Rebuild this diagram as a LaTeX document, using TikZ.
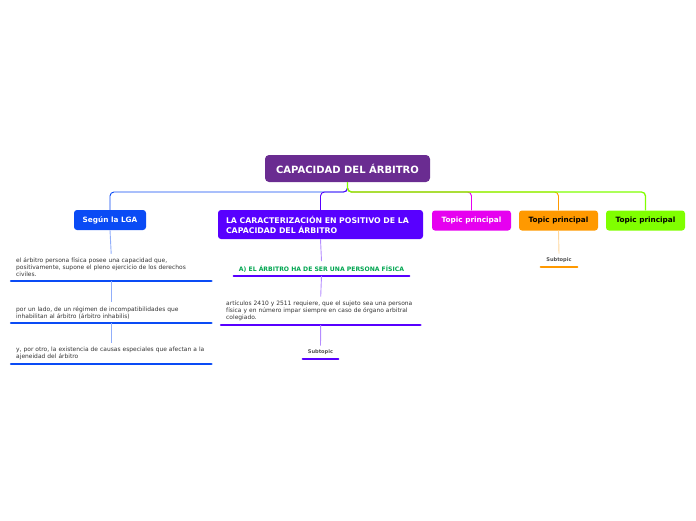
\documentclass[tikz,border=0pt]{standalone}
\usepackage{fontspec}
\setmainfont{DejaVu Sans}
\definecolor{rootpurple}{RGB}{106,44,145}
\definecolor{lgablue}{RGB}{10,75,245}
\definecolor{carpurple}{RGB}{88,0,255}
\definecolor{tpmagenta}{RGB}{230,0,240}
\definecolor{tporange}{RGB}{255,153,0}
\definecolor{tpgreen}{RGB}{128,255,0}
\definecolor{subgreen}{RGB}{0,165,80}
\definecolor{textgray}{RGB}{51,51,51}

\begin{document}
\begin{tikzpicture}[x=1pt, y=-1pt,
  rootbox/.style={fill=rootpurple, rounded corners=4pt, minimum width=165pt, minimum height=27pt,
    inner sep=0pt, text=white, font=\fontsize{10}{12}\selectfont\bfseries},
  topic/.style={rounded corners=3pt, minimum width=79pt, minimum height=20pt, inner sep=0pt,
    text=white, font=\fontsize{7.3}{9}\selectfont\bfseries},
  sub/.style={inner xsep=5pt, inner ysep=4pt, align=left, text=textgray,
    font=\fontsize{5.95}{7}\selectfont},
  subtag/.style={inner sep=4pt, text=textgray!85, font=\fontsize{5.1}{6}\selectfont\bfseries},
  branch/.style={line width=0.9pt, rounded corners=4pt},
  stem/.style={line width=0.9pt},
  uline/.style={line width=2.5pt, line cap=round, #1}]
  \useasboundingbox (0,0) rectangle (696,520);

  % root and main topics
  \node[rootbox] (cap) at (347.5,168.5) {CAPACIDAD DEL ÁRBITRO};
  \coordinate (bus) at (348,192);

  \node[topic, fill=lgablue, minimum width=72pt] (lga) at (110,220) {Según la LGA};
  \node[topic, fill=carpurple, minimum height=29pt, inner xsep=8pt, text width=189pt, align=left,
    font=\fontsize{7.8}{10}\selectfont\bfseries]
    (car) at (320.5,224.5) {LA CARACTERIZACIÓN EN POSITIVO DE LA\\CAPACIDAD DEL ÁRBITRO};
  \node[topic, fill=tpmagenta] (tpa) at (471.5,220.5) {Topic principal};
  \node[topic, fill=tporange, text=black] (tpb) at (558.5,220.5) {Topic principal};
  \node[topic, fill=tpgreen, text=black] (tpc) at (645.5,220.5) {Topic principal};

  \draw[branch, lgablue] (cap.south) -- (cap.south |- bus) -| (lga.north);
  \draw[branch, carpurple] (cap.south) -- (cap.south |- bus) -| (car.north);
  \draw[branch, tpmagenta] (cap.south) -- (cap.south |- bus) -| (tpa.north);
  \draw[branch, tporange] (cap.south) -- (cap.south |- bus) -| (tpb.north);
  \draw[branch, tpgreen, line width=1.3pt] (cap.south) -- (cap.south |- bus) -| (tpc.north);

  % Según la LGA
  \node[sub, anchor=south west, text width=190pt] (lga1) at (11,281)
    {el árbitro persona física posee una capacidad que,\\positivamente, supone el pleno ejercicio de los derechos\\civiles.};
  \node[sub, anchor=south west, text width=190pt] (lga2) at (11,323)
    {por un lado, de un régimen de incompatibilidades que\\inhabilitan al árbitro (árbitro inhabilis)};
  \node[sub, anchor=south west, text width=190pt] (lga3) at (11,364)
    {y, por otro, la existencia de causas especiales que afectan a la\\ajeneidad del árbitro};
  \foreach \n in {lga1,lga2,lga3}
    \draw[uline=lgablue] (\n.south west) -- (\n.south east);
  \draw[stem, lgablue!45] (lga.south) -- (lga1.north);
  \draw[stem, lgablue!45] (lga1.south) -- (lga2.north);
  \draw[stem, lgablue!45] (lga2.south) -- (lga3.north);

  % caracterizacion
  \node[sub, anchor=south, minimum width=175pt, text=subgreen, font=\fontsize{6.1}{7}\selectfont\bfseries]
    (car1) at (321.5,276) {A) EL ÁRBITRO HA DE SER UNA PERSONA FÍSICA};
  \node[sub, anchor=south west, text width=189pt] (car2) at (221,325)
    {artículos 2410 y 2511 requiere, que el sujeto sea una persona\\física y en número impar siempre en caso de órgano arbitral\\colegiado.};
  \node[subtag, anchor=south, minimum width=35pt] (car3) at (320.5,359) {Subtopic};
  \foreach \n in {car1,car2,car3}
    \draw[uline=carpurple] (\n.south west) -- (\n.south east);
  \draw[stem, carpurple!45] (car.south) -- (car1.north);
  \draw[stem, carpurple!45] (car1.south) -- (car2.north);
  \draw[stem, carpurple!45] (car2.south) -- (car3.north);

  % topic principal (naranja)
  \node[subtag, anchor=south, minimum width=36pt] (tpb1) at (559,267) {Subtopic};
  \draw[uline=tporange] (tpb1.south west) -- (tpb1.south east);
  \draw[stem, tporange!40] (tpb.south) -- (tpb1.north);
\end{tikzpicture}
\end{document}
